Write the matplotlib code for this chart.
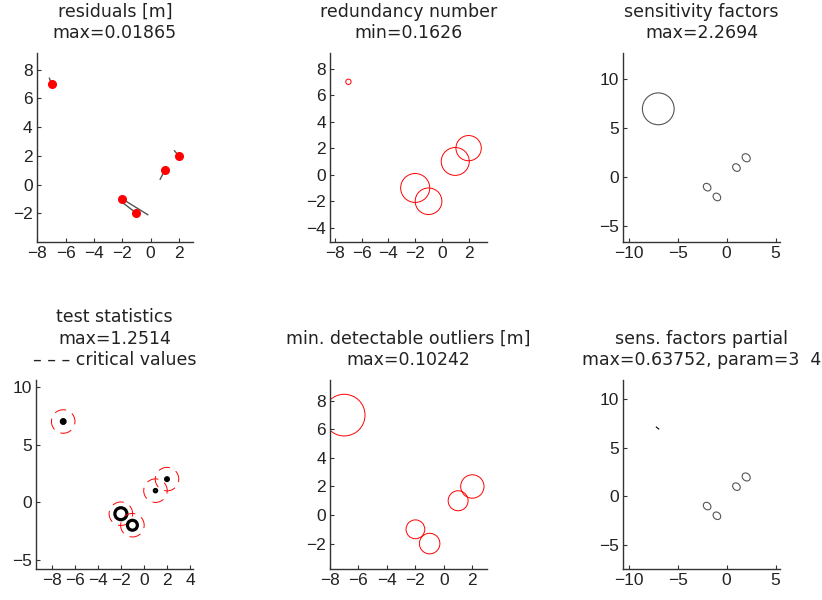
import numpy as np
import matplotlib
matplotlib.use("Agg")
import matplotlib.pyplot as plt
from matplotlib.patches import Circle, Ellipse

plt.rcParams['font.family'] = ['Liberation Sans', 'DejaVu Sans']

# point coordinates
px = [-7, -2, -1, 1, 2]
py = [7, -1, -2, 1, 2]

# residual vectors (plotted, scaled)
res_dx = [-0.15, 1.8, -1.05, -0.32, -0.31]
res_dy = [0.4, -1.1, 0.8, -0.63, 0.35]

# circle radii per panel
redund_r = [0.2, 1.09, 1.0, 1.05, 0.95]
sens_w = [3.25, 0.85, 0.85, 0.85, 0.9]
sens_h = [3.25, 0.7, 0.7, 0.7, 0.75]
test_r = [0.16, 0.52, 0.43, 0.1, 0.12]
crit_r = [1.02, 1.02, 1.02, 1.02, 1.02]
mdb_r = [1.46, 0.66, 0.72, 0.7, 0.82]
part_w = [0.0, 0.85, 0.85, 0.85, 0.9]
part_h = [0.0, 0.7, 0.7, 0.7, 0.75]
part_mark_x = [-7.2, -6.95]
part_mark_y = [7.15, 6.95]

titles = [
    "residuals [m]\nmax=0.01865",
    "redundancy number\nmin=0.1626",
    "sensitivity factors\nmax=2.2694",
    "test statistics\nmax=1.2514\n\u2013 \u2013 \u2013 critical values",
    "min. detectable outliers [m]\nmax=0.10242",
    "sens. factors partial\nmax=0.63752, param=3  4",
]

W, H = 822, 600
# axes boxes in pixels: left, top, right, bottom
boxes = [
    (36.7, 53, 193, 242),
    (330, 53, 487.3, 242),
    (623.3, 53, 780, 242),
    (36, 380, 193.3, 568.7),
    (330, 380, 487.3, 568.7),
    (623.3, 380, 780, 568.7),
]
limits = [
    ((-8.05, 3.0), (-4.0, 9.16)),
    ((-8.38, 3.4), (-5.07, 9.17)),
    ((-10.58, 5.46), (-6.6, 12.7)),
    ((-9.36, 4.28), (-5.77, 10.6)),
    ((-7.95, 3.05), (-3.76, 9.46)),
    ((-10.58, 5.46), (-7.46, 12.0)),
]
xticks = [
    [-8, -6, -4, -2, 0, 2],
    [-8, -6, -4, -2, 0, 2],
    [-10, -5, 0, 5],
    [-8, -6, -4, -2, 0, 2, 4],
    [-8, -6, -4, -2, 0, 2],
    [-10, -5, 0, 5],
]
yticks = [
    [-2, 0, 2, 4, 6, 8],
    [-4, -2, 0, 2, 4, 6, 8],
    [-5, 0, 5, 10],
    [-5, 0, 5, 10],
    [-2, 0, 2, 4, 6, 8],
    [-5, 0, 5, 10],
]

fig = plt.figure(figsize=(8.22, 6.0), dpi=100)
axes = []
for i, (l, t, r, b) in enumerate(boxes):
    ax = fig.add_axes([l / W, 1 - b / H, (r - l) / W, (b - t) / H])
    ax.set_xlim(limits[i][0])
    ax.set_ylim(limits[i][1])
    ax.set_xticks(xticks[i])
    ax.set_yticks(yticks[i])
    ax.set_xticklabels([str(v).replace('-', '\u2212') for v in xticks[i]])
    ax.set_yticklabels([str(v).replace('-', '\u2212') for v in yticks[i]])
    for s in ['top', 'right']:
        ax.spines[s].set_visible(False)
    for s in ['left', 'bottom']:
        ax.spines[s].set_color('#333333')
        ax.spines[s].set_linewidth(1.0)
    ax.tick_params(direction='in', length=3, width=0.8, colors='#333333',
                   labelcolor='#222222', labelsize=12.5, pad=3)
    ax.set_title(titles[i], fontsize=12.5, family='DejaVu Sans', color='#222222',
                 pad=11, linespacing=1.23)
    axes.append(ax)

# residuals
ax = axes[0]
for x, y, dx, dy in zip(px, py, res_dx, res_dy):
    ax.plot([x, x + dx], [y, y + dy], color='#555555', lw=1.0)
ax.plot(px, py, 'o', color='red', ms=5.5, mec='red')

# redundancy numbers
ax = axes[1]
for x, y, r in zip(px, py, redund_r):
    ax.add_patch(Circle((x, y), r, fill=False, ec='red', lw=0.7))

# sensitivity factors
ax = axes[2]
for x, y, w, h in zip(px, py, sens_w, sens_h):
    ax.add_patch(Ellipse((x, y), w, h, angle=-45, fill=False, ec='#555555', lw=0.8))

# test statistics
ax = axes[3]
for x, y, r, c in zip(px, py, test_r, crit_r):
    ax.add_patch(Circle((x, y), c, fill=False, ec='red', lw=0.7,
                        linestyle=(3, (12, 7))))
    ax.add_patch(Circle((x, y), r, fill=False, ec='black', lw=2.3))

# minimal detectable outliers
ax = axes[4]
for x, y, r in zip(px, py, mdb_r):
    ax.add_patch(Circle((x, y), r, fill=False, ec='red', lw=0.7))

# partial sensitivity factors
ax = axes[5]
for x, y, w, h in zip(px[1:], py[1:], part_w[1:], part_h[1:]):
    ax.add_patch(Ellipse((x, y), w, h, angle=-45, fill=False, ec='#555555', lw=0.8))
ax.plot(part_mark_x, part_mark_y, color='black', lw=0.8)

fig.savefig('out.png', dpi=100)
